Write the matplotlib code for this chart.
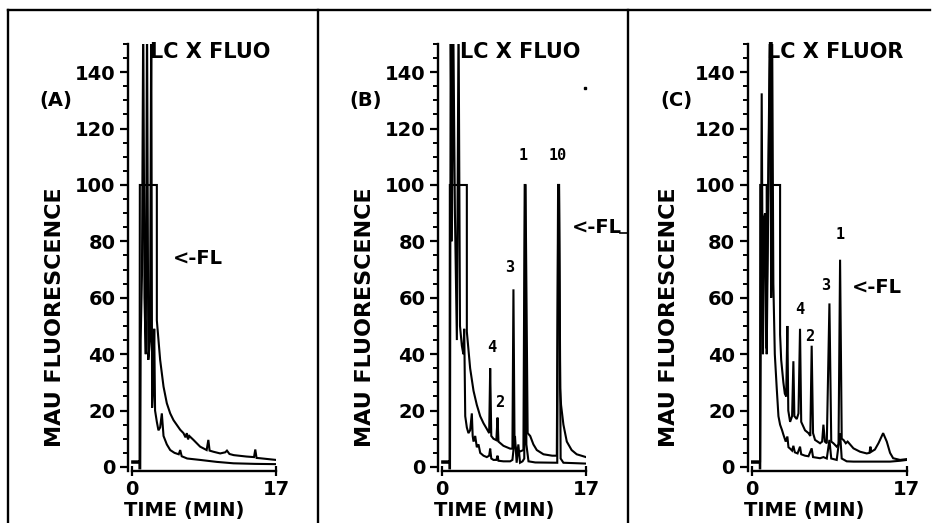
import matplotlib
matplotlib.use('Agg')
import matplotlib.pyplot as plt
from matplotlib.lines import Line2D
from matplotlib.ticker import MultipleLocator, FixedLocator

plt.rcParams['font.family'] = ['DejaVu Sans']
plt.rcParams['font.weight'] = 'bold'
plt.rcParams['axes.labelweight'] = 'bold'

W, H = 935, 523

# ---------------- data (time in min, signal in mAU) ----------------
# Panel A
a_up_t = [0, 0.85, 0.87, 0.9, 2.91, 2.91, 3.3, 3.7, 4.09, 4.49, 4.88, 5.67, 6.06, 6.3, 6.45, 6.6, 6.75,
          7.24, 8.03, 8.8, 9.0, 9.15, 9.6, 10.4, 11.0, 11.2, 11.5, 12.0, 13.5, 14.4, 14.55, 14.7, 15.1, 17.0]
a_up_v = [2, 2, 2, 100, 100, 52, 38, 28.5, 22.6, 19, 16.6, 13.2, 12, 10.5, 12, 9.8, 11, 9.6, 7.2, 6, 9.6,
          5.8, 5.4, 4.8, 5.2, 5.8, 4.6, 4.2, 3.7, 3.5, 6.2, 3.2, 3.1, 2.5]
a_lo_t = [0, 0.85, 0.85, 0.95, 1.0, 1.15, 1.3, 1.45, 1.6, 1.75, 1.9, 2.1, 2.25, 2.35, 2.5, 2.6, 2.7, 2.91,
          3.1, 3.3, 3.5, 3.7, 4.09, 4.49, 5.0, 5.5, 5.67, 5.85, 6.5, 8.03, 10, 11.97, 14.5, 17]
a_lo_v = [1.5, 1.5, -0.5, -0.5, 45, 68, 160, 60, 40, 160, 38, 45, 160, 21, 30, 49, 20, 16,
          13, 14, 19, 11, 8, 6, 5, 4.5, 6, 3.8, 3, 2.5, 1.8, 1.3, 1.1, 1.0]

# Panel B
b_up_t = [0, 0.85, 0.87, 0.9, 2.91, 2.91, 3.3, 3.7, 4.09, 4.49, 4.88, 5.27, 5.55, 5.67, 5.8, 6.06, 6.4,
          6.54, 6.65, 7.24, 8.03, 8.3, 8.42, 8.55, 8.8, 9.2, 9.6, 9.75, 9.85, 10.1, 10.4, 10.78, 11.18,
          11.97, 13.0, 13.55, 13.7, 13.8, 13.94, 14.05, 14.33, 14.73, 15.3, 15.9, 17.0]
b_up_v = [2, 2, 2, 100, 100, 48, 35, 27, 22, 18, 15.5, 13.5, 12, 35, 11, 10, 9.5,
          17.5, 9, 7.5, 6.5, 6.5, 63, 8, 6, 5.5, 6, 100, 100, 12, 11, 8, 6,
          4.5, 4, 4, 100, 100, 28, 22, 15, 9, 6, 4.5, 3.5]
b_lo_t = [0, 0.85, 0.85, 0.92, 1.0, 1.14, 1.3, 1.5, 1.73, 1.93, 2.1, 2.32, 2.5, 2.6, 2.72, 2.91, 3.1,
          3.3, 3.5, 3.6, 3.7, 3.9, 4.09, 4.29, 4.49, 4.88, 5.27, 5.55, 5.67, 5.8, 6.06, 6.4, 6.54, 6.65,
          7.24, 8.03, 8.3, 8.6, 8.8, 9.0, 9.2, 9.5, 9.7, 9.8, 9.95, 10.2, 11.0, 13.6, 13.72, 13.82,
          14.0, 14.33, 17.0]
b_lo_v = [1.5, 1.5, -0.5, -0.5, 160, 80, 160, 90, 45, 160, 50, 43, 40, 49, 18, 14, 12,
          13, 19, 11, 9, 11, 7, 8, 5, 4, 3.5, 4, 6.5, 3, 2.5, 2.5, 4, 2.2,
          2, 2, 2.5, 11, 1.5, 8, 1.5, 2, 3, 100, 8, 2, 1.6, 1.5, 100, 100,
          3, 1.5, 1.2]

# Panel C
c_up_t = [0, 0.85, 0.88, 0.9, 1.61, 1.61, 1.8, 2.0, 2.2, 3.08, 3.08, 3.2, 3.44, 3.6, 3.75, 3.88, 3.98,
          4.18, 4.4, 4.54, 4.65, 4.91, 5.1, 5.27, 5.4, 5.82, 6.2, 6.4, 6.55, 6.7, 6.92, 7.47, 7.7, 7.84,
          8.0, 8.21, 8.5, 8.7, 8.94, 9.3, 9.5, 9.67, 9.85, 10.04, 10.3, 10.5, 11.14, 11.87, 12.6, 12.9,
          13.0, 13.1, 13.5, 13.9, 14.4, 14.8, 15.16, 15.5, 16.26, 17.0]
c_up_v = [2, 2, 2, 100, 100, 40, 100, 160, 100, 100, 47, 38, 30, 26, 25, 50, 20,
          16, 18, 37.5, 18, 17, 19, 49, 16, 13, 12, 11, 43, 12, 9.6, 8.4, 9, 15,
          9, 8.4, 58, 9, 8.4, 7.2, 8, 73.5, 10, 9.6, 8.4, 9, 6.6, 5.4, 4.8, 5,
          7.2, 5.4, 6.2, 8.5, 12, 9, 5, 3.1, 2.5, 2.8]
c_lo_t = [0, 0.85, 0.85, 0.9, 1.06, 1.2, 1.3, 1.43, 1.55, 1.7, 1.98, 2.1, 2.2, 2.34, 2.5, 2.71, 2.9,
          3.08, 3.3, 3.44, 3.7, 3.88, 4.0, 4.18, 4.4, 4.54, 4.7, 5.0, 5.27, 5.4, 5.82, 6.2, 6.55, 6.7,
          7.47, 7.84, 8.21, 8.5, 8.7, 9.3, 9.67, 9.85, 10.4, 11.14, 13.0, 15.16, 16.26, 17.0]
c_lo_v = [1.5, 1.5, -0.5, -0.5, 132.5, 40, 88, 90, 42, 80, 160, 60, 160, 65, 40, 28, 18,
          15, 13, 11.5, 9, 10.8, 7, 6.5, 5.8, 7.5, 5.2, 4.8, 7.2, 4.5, 4, 3.8, 6.6, 3.5,
          3.1, 3.5, 3, 9.6, 3, 2.5, 12, 3, 2, 1.9, 1.9, 1.9, 2.2, 2.5]

y_ticks = [0, 20, 40, 60, 80, 100, 120, 140]
x_ticks = [0, 17]
x_tick_labels = ['0', '17']
y_label = 'MAU FLUORESCENCE'
x_label = 'TIME (MIN)'
titles = ['LC X FLUO', 'LC X FLUO', 'LC X FLUOR']
panel_tags = ['(A)', '(B)', '(C)']

# peak labels: (panel index, text, t, value)
peak_labels = [
    (1, '4', 5.87, 42.2), (1, '2', 6.85, 23.0), (1, '3', 8.03, 70.9),
    (1, '1', 9.56, 110.6), (1, '10', 13.7, 110.6),
    (2, '1', 9.67, 82.3), (2, '3', 8.13, 64.5), (2, '4', 5.27, 55.7), (2, '2', 6.37, 46.1),
]
fl_pos = [(4.84, 74.0), (15.35, 85.1), (11.0, 63.5)]
title_t = [2.13, 2.13, 1.6]
tag_t = [-9.0, -9.0, -8.35]

panels = [
    (a_up_t, a_up_v, a_lo_t, a_lo_v),
    (b_up_t, b_up_v, b_lo_t, b_lo_v),
    (c_up_t, c_up_v, c_lo_t, c_lo_v),
]

# axes placement in pixels: left edge (y axis), width
ax_geom = [(128, 148), (438, 148), (747.5, 159.3)]
ax_bottom_px = 471.2
ax_height_px = 427.2

fig = plt.figure(figsize=(W / 100, H / 100), dpi=100)
fig.patch.set_facecolor('white')

TICK_FS = 14
for i, (ut, uv, lt, lv) in enumerate(panels):
    left, width = ax_geom[i]
    ax = fig.add_axes([left / W, 1 - ax_bottom_px / H, width / W, ax_height_px / H])
    ax.set_facecolor('none')
    ax.plot(ut, uv, color='black', lw=1.5, solid_joinstyle='miter')
    ax.plot(lt, lv, color='black', lw=1.5, solid_joinstyle='miter')
    ax.set_xlim(-0.5, 17)
    ax.set_ylim(-1.5, 150)
    for s in ('top', 'right'):
        ax.spines[s].set_visible(False)
    ax.spines['left'].set_linewidth(1.7)
    ax.spines['bottom'].set_linewidth(1.7)
    ax.spines['bottom'].set_bounds(0, 17)
    ax.spines['left'].set_bounds(-1.5, 150)
    ax.yaxis.set_major_locator(FixedLocator(y_ticks))
    ax.yaxis.set_minor_locator(MultipleLocator(5))
    ax.xaxis.set_major_locator(FixedLocator(x_ticks))
    ax.set_xticklabels(x_tick_labels)
    ax.tick_params(axis='y', which='major', direction='out', length=6, width=1.6,
                   pad=3, labelsize=TICK_FS)
    ax.tick_params(axis='y', which='minor', direction='out', length=3.5, width=1.4)
    ax.tick_params(axis='x', which='major', direction='inout', length=7, width=1.6,
                   pad=3, labelsize=TICK_FS)
    ax.set_ylabel(y_label, fontsize=16, va='center', fontweight='bold')
    ax.yaxis.set_label_coords(-0.49, 0.361)
    ax.set_xlabel(x_label, fontsize=14, va='center', ha='left', fontweight='bold')
    ax.xaxis.set_label_coords(-0.025, -0.093)

    ax.text(title_t[i], 145.0, titles[i], fontsize=15, ha='left', va='baseline')
    ax.text(tag_t[i], 130, panel_tags[i], fontsize=14, ha='center', va='center')
    fx, fy = fl_pos[i]
    ax.text(fx, fy, '<-FL', fontsize=14, ha='left', va='center', clip_on=False)

for (pi, txt, t, v) in peak_labels:
    ax = fig.axes[pi]
    ax.text(t, v, txt, fontsize=11, ha='center', va='center',
            family=['DejaVu Sans Mono', 'DejaVu Sans'])

# stray dot in panel B
fig.axes[1].plot([16.9], [134.4], marker='s', ms=2, color='black', clip_on=False)

# frame lines of the figure
def fline(x0, y0, x1, y1, lw=1.7):
    fig.add_artist(Line2D([x0 / W, x1 / W], [1 - y0 / H, 1 - y1 / H], color='black', lw=lw))

fline(8, 10, 930, 10)
fline(8, 10, 8, 523)
fline(318, 10, 318, 523)
fline(628, 10, 628, 523)
fline(620, 233, 628, 233, lw=1.2)

fig.savefig('out.png', dpi=100, facecolor='white')
